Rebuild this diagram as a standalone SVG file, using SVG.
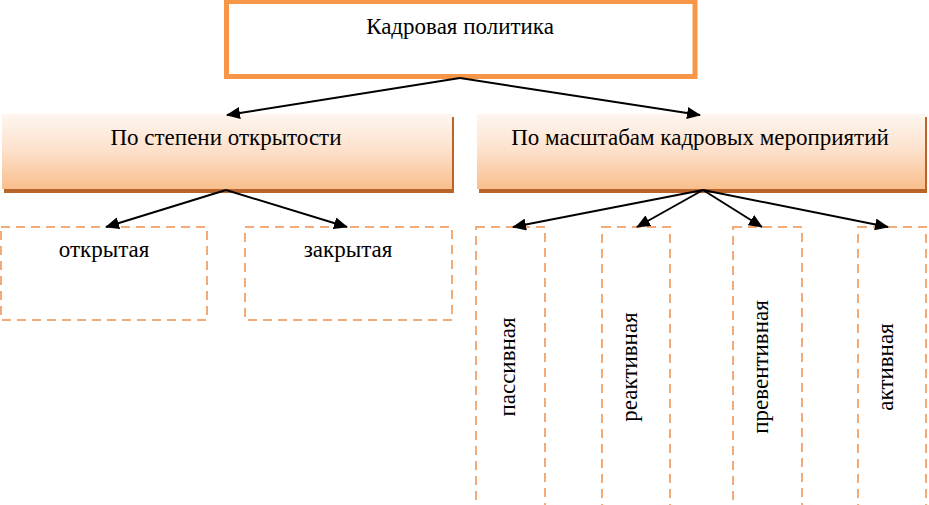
<svg xmlns="http://www.w3.org/2000/svg" width="929" height="505" viewBox="0 0 929 505">
<defs>
<linearGradient id="g" x1="0" y1="0" x2="0" y2="1">
<stop offset="0" stop-color="#FEF6F0"/>
<stop offset="0.45" stop-color="#FDE3CF"/>
<stop offset="1" stop-color="#F9BE8C"/>
</linearGradient>
<marker id="ah" markerWidth="14" markerHeight="12" refX="13" refY="6" orient="auto" markerUnits="userSpaceOnUse">
<path d="M0,0 L14,6 L0,12 Z" fill="#000"/>
</marker>
<style>
.t{font-family:"Liberation Serif","Times New Roman",serif;font-size:23px;fill:#000;text-anchor:middle}
.d{fill:#fff;stroke:#F2AB78;stroke-width:2;stroke-dasharray:9 6}
.sh{fill:#B8642A}
.gb{fill:url(#g)}
.c{stroke:#000;stroke-width:2;fill:none;marker-end:url(#ah)}
</style>
</defs>
<rect width="929" height="505" fill="#fff"/>
<g id="root">
<rect x="226.5" y="1.5" width="468.5" height="75" fill="#fff" stroke="#F79646" stroke-width="5"/>
<text class="t" x="460" y="34">Кадровая политика</text>
</g>
<g id="openness">
<rect class="sh" x="4" y="117" width="450" height="76"/>
<rect class="gb" x="2" y="114" width="450" height="75"/>
<text class="t" x="226" y="145">По степени открытости</text>
</g>
<g id="scale">
<rect class="sh" x="479" y="117" width="448" height="76"/>
<rect class="gb" x="477" y="114" width="448" height="75"/>
<text class="t" x="700" y="145">По масштабам кадровых мероприятий</text>
</g>
<g id="open">
<rect class="d" x="1" y="227" width="206" height="93"/>
<text class="t" x="104" y="257">открытая</text>
</g>
<g id="closed">
<rect class="d" x="245" y="227" width="207" height="93"/>
<text class="t" x="348" y="257">закрытая</text>
</g>
<g id="passive">
<rect class="d" x="476" y="227" width="69" height="300"/>
<text class="t" transform="translate(515,367) rotate(-90)">пассивная</text>
</g>
<g id="reactive">
<rect class="d" x="602" y="227" width="68" height="300"/>
<text class="t" transform="translate(637,367) rotate(-90)">реактивная</text>
</g>
<g id="preventive">
<rect class="d" x="733" y="227" width="69" height="300"/>
<text class="t" transform="translate(768,367) rotate(-90)">превентивная</text>
</g>
<g id="active">
<rect class="d" x="858" y="227" width="68" height="300"/>
<text class="t" transform="translate(893,367) rotate(-90)">активная</text>
</g>
<g id="connectors">
<line class="c" x1="460" y1="78" x2="227" y2="115"/>
<line class="c" x1="460" y1="78" x2="700" y2="115"/>
<line class="c" x1="226" y1="190" x2="106" y2="227"/>
<line class="c" x1="226" y1="190" x2="347" y2="227"/>
<line class="c" x1="703" y1="190" x2="513" y2="227"/>
<line class="c" x1="703" y1="190" x2="637" y2="227"/>
<line class="c" x1="703" y1="190" x2="762" y2="227"/>
<line class="c" x1="703" y1="190" x2="888" y2="227"/>
</g>
</svg>
